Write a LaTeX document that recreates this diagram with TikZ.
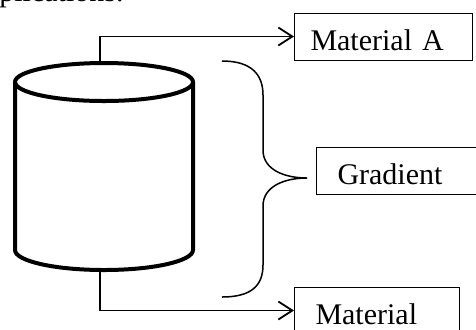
\documentclass[tikz,border=0pt]{standalone}
\usepackage{fontspec}
\setmainfont{Liberation Serif}
\usetikzlibrary{arrows.meta, positioning}

\begin{document}
\begin{tikzpicture}[x=0.5pt, y=0.5pt,
        font=\fontsize{15}{18}\selectfont,
        cyl/.style={line width=2pt},
        flow/.style={line width=0.75pt, -{Straight Barb[length=7pt, width=9pt, line width=0.9pt]}},
        box/.style={draw, line width=0.5pt, anchor=west, align=left, minimum height=23.5pt,
                    inner ysep=0pt, text height=13.5pt, text depth=0pt}]

        % page frame
        \useasboundingbox (0,0) rectangle (476,-329);

        % end of the sentence above the figure
        \node[anchor=base west, inner sep=0pt] (txt) at (-1,-1) {plications.};

        % the column
        \draw[cyl] (104,-82) ellipse [x radius=89, y radius=19];
        \draw[cyl] (15,-82) -- (15,-250) arc [start angle=180, end angle=360, x radius=89, y radius=20] -- (193,-82);

        \coordinate (top) at (100,-63);
        \coordinate (bot) at (100,-270);

        % output boxes
        \node[box, inner xsep=8pt, text width=73pt] (matA) at (294,-36.5) {Material A};
        \node[box, inner xsep=10.5pt, text width=61.5pt] (matB) at (294,-310.5) {Material};
        \node[box, inner xsep=10.5pt, text width=79pt] (grad) at (316,-170.5) {Gradient};

        \draw[flow] (top) |- (matA.west);
        \draw[flow] (bot) |- (matB.west);

        % curly brace over the column height
        \coordinate (tip) at (307,-178);
        \draw[line width=0.75pt] (222,-61) .. controls (252,-61) and (263,-75) .. (263,-95)
              -- (263,-150) .. controls (263,-170) and (285,-178) .. (tip)
              .. controls (285,-178) and (263,-186) .. (263,-206)
              -- (263,-265) .. controls (263,-285) and (252,-297) .. (222,-297);

\end{tikzpicture}
\end{document}
